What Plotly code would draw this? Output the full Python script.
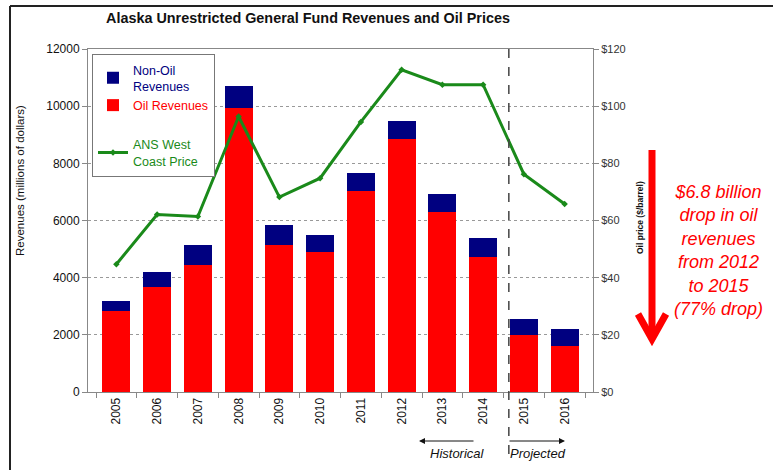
import plotly.graph_objects as go

years = ["2005", "2006", "2007", "2008", "2009", "2010", "2011", "2012", "2013", "2014", "2015", "2016"]
oil_revenues = [2820, 3675, 4455, 9930, 5145, 4890, 7035, 8845, 6310, 4725, 1995, 1610]
total_revenues = [3200, 4200, 5145, 10720, 5835, 5505, 7675, 9485, 6940, 5390, 2565, 2205]
non_oil_revenues = [t - o for t, o in zip(total_revenues, oil_revenues)]
ans_price = [44.7, 62.1, 61.4, 96.4, 68.2, 74.8, 94.5, 112.7, 107.5, 107.5, 76.2, 65.8]

FONT = "Liberation Sans, Arial, sans-serif"
W, H = 773, 470
L, R, T, B = 88, 593, 49, 392  # plot area pixel box


def px(x):
    return (x - L) / (R - L)


def py(y):
    return (B - y) / (B - T)


def label(text, x, y, size, color="#111", angle=0, style="normal"):
    return dict(text=text, xref="paper", yref="paper", x=px(x), y=py(y), xanchor="center",
                yanchor="middle", textangle=angle, showarrow=False,
                font=dict(size=size, color=color, family=FONT, style=style))


fig = go.Figure()
fig.add_trace(go.Bar(
    x=years, y=oil_revenues, name="<span style='color:#ff0000'>Oil Revenues</span>",
    marker=dict(color="#ff0000", line=dict(width=0)), legendgroup="rev", legendrank=2,
))
fig.add_trace(go.Bar(
    x=years, y=non_oil_revenues, name="<span style='color:#000080'>Non-Oil<br>Revenues</span>",
    marker=dict(color="#000080", line=dict(width=0)), legendgroup="rev", legendrank=1,
))
fig.add_trace(go.Scatter(
    x=years, y=ans_price, yaxis="y2", mode="lines+markers",
    name="<span style='color:#1a8a1a'>ANS West<br>Coast Price</span>",
    line=dict(color="#1a8a1a", width=3), marker=dict(symbol="diamond", size=5, color="#1a8a1a"),
    legendgroup="price", legendrank=3,
))

shapes = [
    # outer frame (top and left)
    dict(type="line", xref="paper", yref="paper", x0=px(10), x1=px(773), y0=py(6), y1=py(6),
         line=dict(color="#222", width=2)),
    dict(type="line", xref="paper", yref="paper", x0=px(10), x1=px(10), y0=py(6), y1=py(470),
         line=dict(color="#222", width=2)),
    # historical / projected divider
    dict(type="line", xref="paper", yref="paper", x0=10 / 12, x1=10 / 12, y0=1.0, y1=py(460),
         line=dict(color="#444", width=1.5, dash="dash")),
    # big red arrow
    dict(type="line", xref="paper", yref="paper", x0=px(652), x1=px(652), y0=py(150), y1=py(334),
         line=dict(color="#ff0000", width=7)),
    dict(type="path", xref="paper", yref="paper",
         path=f"M {px(638)},{py(314)} L {px(652)},{py(339)} L {px(666)},{py(314)}",
         line=dict(color="#ff0000", width=7)),
]

annotations = [
    label("<b>Alaska Unrestricted General Fund Revenues and Oil Prices</b>", 308, 18, 14.4),
    label("Revenues (millions of dollars)", 20, 181, 11.5, angle=-90),
    label("<b>Oil price ($/barrel)</b>", 640, 218, 8.5, angle=-90),
    label("$6.8 billion<br>drop in oil<br>revenues<br>from 2012<br>to 2015<br>(77% drop)",
          718, 250, 18, color="#ff0000", style="italic"),
    label("Historical", 457, 454, 13, style="italic"),
    label("Projected", 538, 454, 13, style="italic"),
    dict(text="", xref="paper", yref="paper", x=px(419), y=py(441), ax=56, ay=0, showarrow=True,
         arrowhead=2, arrowsize=1.2, arrowwidth=1, arrowcolor="#111"),
    dict(text="", xref="paper", yref="paper", x=px(565), y=py(441), ax=-57, ay=0, showarrow=True,
         arrowhead=2, arrowsize=1.2, arrowwidth=1, arrowcolor="#111"),
]

fig.update_layout(
    width=W, height=H,
    margin=dict(l=L, r=W - R, t=T, b=H - B),
    paper_bgcolor="white", plot_bgcolor="white",
    barmode="stack", bargap=0.31,
    font=dict(family=FONT, size=11, color="#111"),
    showlegend=True,
    legend=dict(x=px(92), y=py(54), xanchor="left", yanchor="top", bgcolor="white",
                bordercolor="#777", borderwidth=1, font=dict(size=12.5, family=FONT),
                traceorder="grouped", tracegroupgap=20, itemwidth=30),
    xaxis=dict(type="category", tickangle=-90, ticks="outside", tickson="boundaries", ticklen=5,
               tickcolor="#888", showline=True, linecolor="#888", mirror=True,
               tickfont=dict(size=12, color="#111"), showgrid=False),
    yaxis=dict(range=[0, 12000], dtick=2000, tickformat="d", ticks="outside", ticklen=5,
               tickcolor="#888", showline=True, linecolor="#888", showgrid=True, gridcolor="#999",
               griddash="dot", gridwidth=1, tickfont=dict(size=12, color="#111"), zeroline=False),
    yaxis2=dict(range=[0, 120], dtick=20, tickprefix="$", overlaying="y", side="right",
                ticks="outside", ticklen=5, tickcolor="#888", showline=True, linecolor="#888",
                showgrid=False, zeroline=False, tickfont=dict(size=11, color="#333")),
    shapes=shapes, annotations=annotations,
)

fig.write_html("out.html", config={"displayModeBar": False},
               post_script="document.body.style.margin='0px';")
